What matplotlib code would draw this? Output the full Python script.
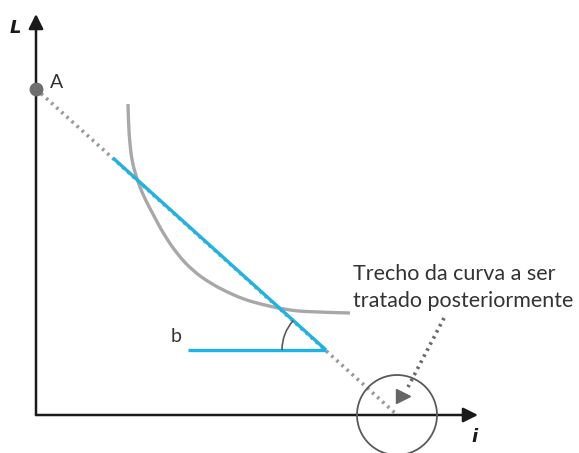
import matplotlib
matplotlib.use("Agg")
import matplotlib.pyplot as plt
from matplotlib.patches import Arc, Circle, PathPatch
from matplotlib.path import Path

# diagram coordinates (pixel-like units, y grows downward)
origin = (36, 415)
y_axis_tip = (36, 14)
x_axis_tip = (478, 415)

point_a = (36, 89)
dotted_end = (395, 413)
blue_start = (113, 158)
blue_vertex = (326, 350)
blue_flat_start = (188, 350)

curve_x = [128, 128.5, 130, 132, 136, 141, 147, 154, 163, 177, 193, 210,
           227, 243, 260, 287, 310, 350]
curve_y = [104, 125, 145, 161, 176, 190, 203, 216, 233, 254, 271, 283,
           292, 299, 304, 310, 312, 313]

circle_center = (397, 415)
circle_radius = 40
pointer_start = (444, 318)
pointer_end = (403, 392)

labels = {"L": (15, 28), "i": (474, 437), "A": (57, 82), "b": (176, 337)}
note_lines = ["Trecho da curva a ser", "tratado posteriormente"]

BLUE = "#1db3e3"
GRAY = "#a8a8a8"
DOT = "#9a9a9a"
DARK = "#5a5a5a"

fig = plt.figure(figsize=(5.79, 4.53), dpi=100)
ax = fig.add_axes([0, 0, 1, 1])
ax.set_xlim(0, 579)
ax.set_ylim(453, 0)
ax.axis("off")

# axes with arrowheads
for tip in (y_axis_tip, x_axis_tip):
    ax.annotate("", xy=tip, xytext=origin,
                arrowprops=dict(arrowstyle="-|>", lw=1.8, color="#1a1a1a",
                                mutation_scale=22, shrinkA=0, shrinkB=0))

# dotted line from A
ax.plot([point_a[0], dotted_end[0]], [point_a[1], dotted_end[1]],
        color=DOT, lw=2.6, linestyle=(0, (0.7, 1.2)), zorder=2)

# curve: read points used as quadratic control points for a smooth stroke
pts = list(zip(curve_x, curve_y))
verts = [pts[0]]
codes = [Path.MOVETO]
for k in range(1, len(pts) - 1):
    mid = ((pts[k][0] + pts[k + 1][0]) / 2, (pts[k][1] + pts[k + 1][1]) / 2)
    if k == len(pts) - 2:
        mid = pts[-1]
    verts += [pts[k], mid]
    codes += [Path.CURVE3, Path.CURVE3]
ax.add_patch(PathPatch(Path(verts, codes), fill=False, ec=GRAY, lw=2.4,
                       capstyle="butt", zorder=3))

# blue lines
ax.plot([blue_start[0], blue_vertex[0]], [blue_start[1], blue_vertex[1]],
        color=BLUE, lw=2.4, solid_capstyle="butt", zorder=4)
ax.plot([blue_flat_start[0], blue_vertex[0]], [blue_flat_start[1], blue_vertex[1]],
        color=BLUE, lw=2.4, solid_capstyle="butt", zorder=4)

# angle arc (y axis inverted, so angles go clockwise visually)
ax.add_patch(Arc(blue_vertex, 88, 88, theta1=180, theta2=222,
                 color=DARK, lw=1.2, zorder=5))

# point A
ax.plot(*point_a, "o", color="#6e6e6e", ms=9, zorder=6)

# circle around the end
ax.add_patch(Circle(circle_center, circle_radius, fill=False, ec=DARK, lw=1.3, zorder=5))

# pointer
ax.plot([pointer_start[0], pointer_end[0] + 5], [pointer_start[1], pointer_end[1] - 5],
        color="#6a6a6a", lw=2.6, linestyle=(0, (0.7, 1.2)), zorder=5)
ax.plot(pointer_end[0], pointer_end[1] + 4, marker=">", color="#666666", ms=10, zorder=6)

# labels
ax.text(*labels["L"], "L", fontsize=13, fontweight="bold", style="italic",
        ha="center", va="center", color="#1a1a1a", family="DejaVu Sans")
ax.text(*labels["i"], "i", fontsize=13, fontweight="bold", style="italic",
        ha="center", va="center", color="#1a1a1a", family="DejaVu Sans")
ax.text(*labels["A"], "A", fontsize=14, ha="center", va="center",
        color="#333333", family="Lato")
ax.text(*labels["b"], "b", fontsize=14, ha="center", va="center",
        color="#333333", family="Lato")
for k, line in enumerate(note_lines):
    ax.text(353, 274 + 27 * k, line, fontsize=15.5, ha="left", va="center",
            color="#333333", family="Lato")

fig.savefig("out.png", dpi=100)
